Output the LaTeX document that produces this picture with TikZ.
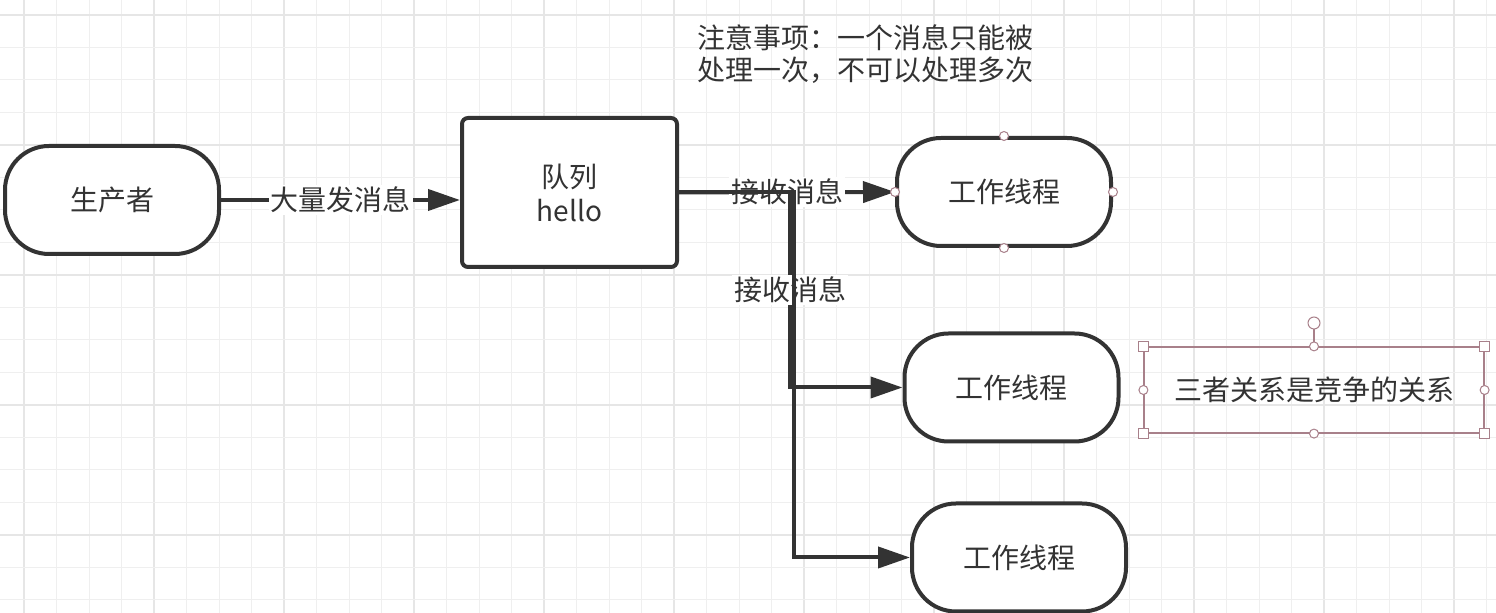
\documentclass[tikz,border=0pt]{standalone}
\usepackage{fontspec}
\setmainfont{Noto Sans CJK SC}
\usetikzlibrary{arrows.meta,calc}
\definecolor{ink}{HTML}{333333}
\definecolor{gridc}{HTML}{EFEFEF}
\definecolor{gridm}{HTML}{E6E6E6}
\definecolor{selc}{HTML}{A8808A}
\tikzset{
  term/.style={draw=ink, line width=2pt, fill=white, rounded corners=22pt,
    minimum width=107pt, minimum height=54pt, text=ink, font=\fontsize{14pt}{16pt}\selectfont},
  qbox/.style={draw=ink, line width=2pt, fill=white, rounded corners=3pt,
    minimum width=107.5pt, minimum height=74.5pt, text=ink, align=center,
    font=\fontsize{14pt}{17pt}\selectfont},
  conn/.style={draw=ink, line width=2pt, -{Triangle[length=16pt,width=10.5pt]}},
  lbl/.style={fill=white, text=ink, inner sep=1pt, font=\fontsize{14pt}{16pt}\selectfont},
  hcirc/.style={circle, draw=selc, fill=white, line width=0.5pt, minimum size=4.5pt, inner sep=0pt},
  hsq/.style={rectangle, draw=selc, fill=white, line width=0.5pt, minimum size=5pt, inner sep=0pt},
}
\begin{document}
\begin{tikzpicture}[x=0.5pt,y=-0.5pt]
\useasboundingbox[fill=white] (0,0) rectangle (1496,613);
% grid
\foreach \i in {0,...,45} {
  \pgfmathtruncatemacro{\m}{mod(\i,4)}
  \ifnum\m=0 \draw[gridm, line width=0.6pt] ({24+\i*32.5},0) -- ({24+\i*32.5},613);
  \else \draw[gridc, line width=0.5pt] ({24+\i*32.5},0) -- ({24+\i*32.5},613); \fi
}
\foreach \j in {0,...,18} {
  \pgfmathtruncatemacro{\m}{mod(\j,4)}
  \ifnum\m=0 \draw[gridm, line width=0.6pt] (0,{15+\j*32.5}) -- (1496,{15+\j*32.5});
  \else \draw[gridc, line width=0.5pt] (0,{15+\j*32.5}) -- (1496,{15+\j*32.5}); \fi
}

% nodes
\node[term] (prod) at (112,200) {生产者};
\node[qbox] (queue) at (569.5,192.5) {队列\\hello};
\node[term] (w1) at (1004,192) {工作线程};
\node[term] (w2) at (1011.5,387.5) {工作线程};
\node[term] (w3) at (1019,557.5) {工作线程};

\node[anchor=west, align=left, text=ink, inner sep=0pt,
  font=\fontsize{14pt}{16pt}\selectfont] (note) at (697,54)
  {注意事项：一个消息只能被\\处理一次，不可以处理多次};

% connectors
\coordinate (j2) at (790,0);
\coordinate (j3) at (794,0);
\draw[conn] (prod.east) -- node[lbl, midway] {大量发消息} (prod.east -| queue.west);
\draw[conn] (queue.east) -- node[lbl, midway] {接收消息} (w1.west);
\draw[conn] (queue.east) -- (queue.east -| j2) -- node[lbl, midway] {接收消息} (j2 |- w2.west) -- (w2.west);
\draw[conn] (queue.east) -- (queue.east -| j3) -- (j3 |- w3.west) -- (w3.west);

% selection handles of w1
\foreach \a in {north,south,east,west} { \node[hcirc] (h1\a) at (w1.\a) {}; }

% selected text box
\node[draw=selc, line width=0.6pt, minimum width=170pt, minimum height=43pt,
  text=ink, font=\fontsize{14pt}{16pt}\selectfont] (tb) at (1314,390) {三者关系是竞争的关系};
\node[hcirc, minimum size=6pt] (rot) at (1314,323) {};
\draw[selc, line width=0.6pt] (rot) -- (tb.north);
\foreach \a in {north west,north east,south west,south east} { \node[hsq] (s\a) at (tb.\a) {}; }
\foreach \a in {north,south,east,west} { \node[hcirc] (t\a) at (tb.\a) {}; }
\end{tikzpicture}
\end{document}
